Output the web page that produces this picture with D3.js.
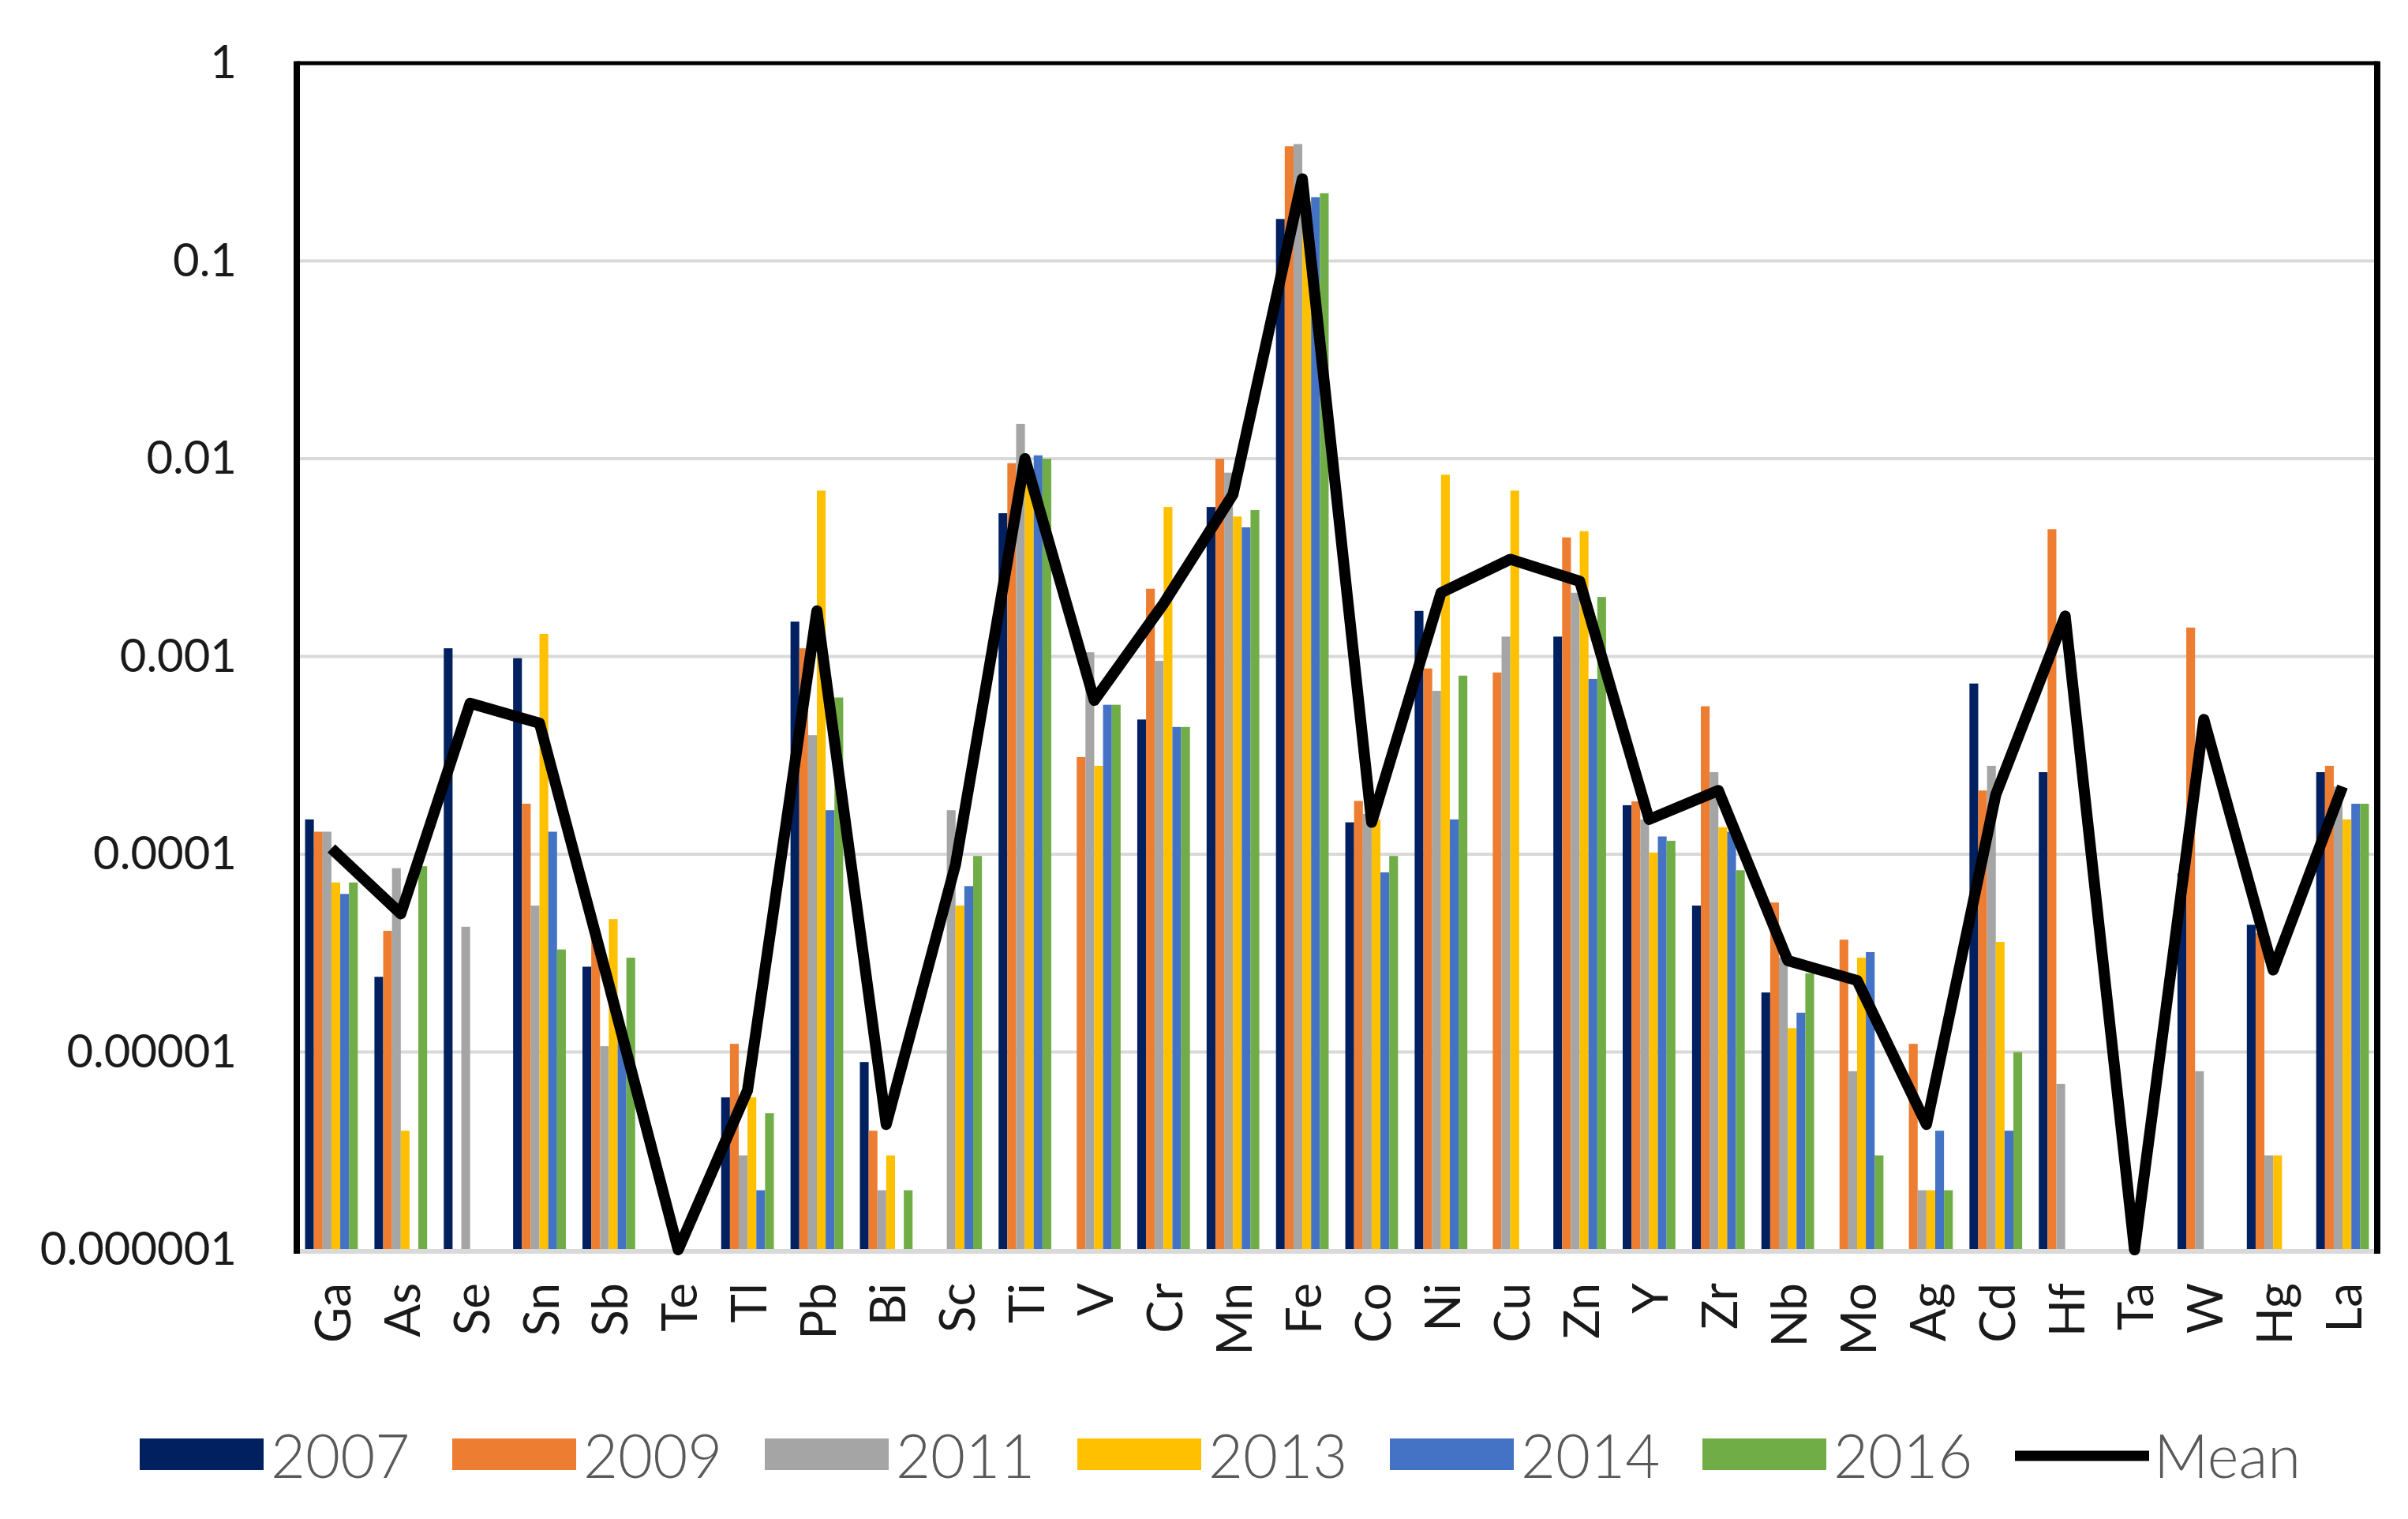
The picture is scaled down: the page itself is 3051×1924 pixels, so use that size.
<!DOCTYPE html>
<html>
<head>
<meta charset="utf-8">
<script src="https://cdn.jsdelivr.net/npm/d3@7/dist/d3.min.js"></script>
<style>
  html, body { margin: 0; padding: 0; background: #ffffff; }
  svg { display: block; }
</style>
</head>
<body>
<script>
const categories = ["Ga","As","Se","Sn","Sb","Te","Tl","Pb","Bi","Sc","Ti","V","Cr","Mn","Fe","Co","Ni","Cu","Zn","Y","Zr","Nb","Mo","Ag","Cd","Hf","Ta","W","Hg","La"];
const seriesNames = ["2007","2009","2011","2013","2014","2016"];
const seriesColors = ["#002060","#ED7D31","#A5A5A5","#FFC000","#4472C4","#70AD47"];

const v2007 = [1.5e-4,2.4e-5,1.1e-3,9.8e-4,2.7e-5,null,5.9e-6,1.5e-3,8.9e-6,null,5.3e-3,null,4.8e-4,5.7e-3,0.163,1.45e-4,1.7e-3,null,1.26e-3,1.77e-4,5.5e-5,2.0e-5,null,null,7.3e-4,2.6e-4,null,8e-5,4.4e-5,2.6e-4];
const v2009 = [1.3e-4,4.1e-5,null,1.8e-4,3.7e-5,null,1.1e-5,1.1e-3,4e-6,null,9.5e-3,3.1e-4,2.2e-3,1.0e-2,0.38,1.86e-4,8.7e-4,8.3e-4,4.0e-3,1.85e-4,5.6e-4,5.7e-5,3.7e-5,1.1e-5,2.1e-4,4.4e-3,null,1.4e-3,4.0e-5,2.8e-4];
const v2011 = [1.3e-4,8.5e-5,4.3e-5,5.5e-5,1.07e-5,null,3e-6,4.0e-4,2e-6,1.67e-4,1.5e-2,1.05e-3,9.5e-4,8.5e-3,0.39,1.6e-4,6.7e-4,1.26e-3,2.1e-3,1.5e-4,2.6e-4,3.0e-5,8e-6,2e-6,2.8e-4,6.9e-6,null,8e-6,3e-6,2.2e-4];
const v2013 = [7.2e-5,4e-6,null,1.3e-3,4.7e-5,null,5.9e-6,6.9e-3,3e-6,5.5e-5,8e-3,2.8e-4,5.7e-3,5.1e-3,0.2,1.5e-4,8.3e-3,6.9e-3,4.3e-3,1.02e-4,1.37e-4,1.32e-5,3.0e-5,2e-6,3.6e-5,null,null,null,3e-6,1.5e-4];
const v2014 = [6.3e-5,null,null,1.3e-4,1.3e-5,null,2e-6,1.67e-4,null,6.9e-5,1.04e-2,5.7e-4,4.4e-4,4.5e-3,0.21,8.1e-5,1.5e-4,null,7.7e-4,1.23e-4,1.3e-4,1.58e-5,3.2e-5,4e-6,4e-6,null,null,null,null,1.8e-4];
const v2016 = [7.2e-5,8.7e-5,null,3.3e-5,3.0e-5,null,4.9e-6,6.2e-4,2e-6,9.8e-5,1.0e-2,5.7e-4,4.4e-4,5.5e-3,0.22,9.8e-5,8.0e-4,null,2.0e-3,1.17e-4,8.3e-5,2.5e-5,3e-6,2e-6,1e-5,null,null,null,null,1.8e-4];
const meanValues = [1.07e-4,5.0e-5,5.8e-4,4.6e-4,2.2e-5,1e-6,6.4e-6,1.7e-3,4.3e-6,8.9e-5,1.0e-2,6.0e-4,1.85e-3,6.6e-3,0.26,1.45e-4,2.1e-3,3.1e-3,2.4e-3,1.5e-4,2.1e-4,2.9e-5,2.3e-5,4.3e-6,2.0e-4,1.6e-3,1e-6,4.8e-4,2.6e-5,2.2e-4];
const yTickValues = [1,0.1,0.01,0.001,0.0001,0.00001,0.000001];
const yTickLabels = ["1","0.1","0.01","0.001","0.0001","0.00001","0.000001"];

const seriesValues = [v2007,v2009,v2011,v2013,v2014,v2016];

const W = 3051, H = 1924;
const m = {left: 376, right: 3012, top: 80, bottom: 1583};

const svg = d3.select("body").append("svg").attr("width", W).attr("height", H);
svg.append("rect").attr("width", W).attr("height", H).attr("fill", "#fff");

const y = d3.scaleLog().domain([1e-6, 1]).range([m.bottom, m.top]);
const x0 = d3.scaleBand().domain(categories).range([m.left, m.right]).padding(0);
const step = x0.bandwidth();
const x1 = d3.scaleBand().domain(seriesNames).range([step * 0.12, step * 0.88]).padding(0);

// gridlines
svg.append("g").selectAll("line").data(yTickValues.slice(1, -1)).join("line")
  .attr("x1", m.left).attr("x2", m.right)
  .attr("y1", d => y(d)).attr("y2", d => y(d))
  .attr("stroke", "#d9d9d9").attr("stroke-width", 4);

// bars
const groups = svg.append("g").selectAll("g").data(categories).join("g")
  .attr("transform", d => `translate(${x0(d)},0)`);
groups.selectAll("rect")
  .data((c, i) => seriesNames.map((s, k) => ({s, k, v: seriesValues[k][i]})).filter(d => d.v != null))
  .join("rect")
  .attr("x", d => x1(d.s))
  .attr("width", x1.bandwidth())
  .attr("y", d => y(d.v))
  .attr("height", d => y(1e-6) - y(d.v))
  .attr("fill", d => seriesColors[d.k]);

// bottom axis line
svg.append("line").attr("x1", m.left).attr("x2", m.right)
  .attr("y1", m.bottom + 2).attr("y2", m.bottom + 2)
  .attr("stroke", "#d9d9d9").attr("stroke-width", 6);

// mean line
const line = d3.line()
  .x((d, i) => x0(categories[i]) + step / 2)
  .y(d => y(d));
svg.append("path").datum(meanValues)
  .attr("d", line)
  .attr("fill", "none")
  .attr("stroke", "#000")
  .attr("stroke-width", 14)
  .attr("stroke-linejoin", "round");

// frame
svg.append("line").attr("x1", m.left).attr("x2", m.right).attr("y1", m.top).attr("y2", m.top)
  .attr("stroke", "#000").attr("stroke-width", 5);
svg.append("line").attr("x1", m.left).attr("x2", m.left).attr("y1", m.top - 2.5).attr("y2", m.bottom + 5)
  .attr("stroke", "#000").attr("stroke-width", 8);
svg.append("line").attr("x1", m.right).attr("x2", m.right).attr("y1", m.top - 2.5).attr("y2", m.bottom + 5)
  .attr("stroke", "#000").attr("stroke-width", 8);

// y axis labels
const yAxis = d3.axisLeft(y).tickValues(yTickValues)
  .tickFormat((d, i) => yTickLabels[i]).tickSize(0).tickPadding(76);
const gy = svg.append("g").attr("transform", `translate(${m.left},0)`).call(yAxis);
gy.select(".domain").remove();
gy.selectAll("text")
  .attr("font-family", "Lato, 'Open Sans', sans-serif")
  .attr("font-size", 58)
  .attr("fill", "#1a1a1a");

// x axis labels
const xAxis = d3.axisBottom(x0).tickSize(0).tickPadding(0);
const gx = svg.append("g").attr("transform", `translate(0,${m.bottom})`).call(xAxis);
gx.select(".domain").remove();
gx.selectAll("text")
  .attr("font-family", "Lato, 'Open Sans', sans-serif")
  .attr("font-size", 62)
  .attr("fill", "#1a1a1a")
  .attr("text-anchor", "end")
  .attr("dy", null)
  .attr("dominant-baseline", "central")
  .attr("transform", "translate(0,42) rotate(-90)")
  .attr("y", 0).attr("x", 0);

// legend
const legendItems = seriesNames.map((s, k) => ({name: s, color: seriesColors[k], type: "rect"}))
  .concat([{name: "Mean", color: "#000", type: "line"}]);
const lg = svg.append("g");
const legendX = d3.scaleBand().domain(legendItems.map(d => d.name)).range([177, 177 + 396 * 7]).padding(0);
const ly = 1842;
const li = lg.selectAll("g").data(legendItems).join("g")
  .attr("transform", d => `translate(${legendX(d.name)},${ly})`);
li.filter(d => d.type === "rect").append("rect")
  .attr("x", 0).attr("y", -20).attr("width", 157).attr("height", 40)
  .attr("fill", d => d.color);
li.filter(d => d.type === "line").append("line")
  .attr("x1", 0).attr("x2", 170).attr("y1", 2).attr("y2", 2)
  .attr("stroke", "#000").attr("stroke-width", 13);
li.append("text")
  .attr("x", d => d.type === "line" ? 176 : 166)
  .attr("y", 0)
  .attr("dominant-baseline", "central")
  .attr("font-family", "Lato, 'Open Sans', sans-serif")
  .attr("font-size", 76)
  .attr("font-weight", 300)
  .attr("fill", "#595959")
  .text(d => d.name);
</script>
</body>
</html>
